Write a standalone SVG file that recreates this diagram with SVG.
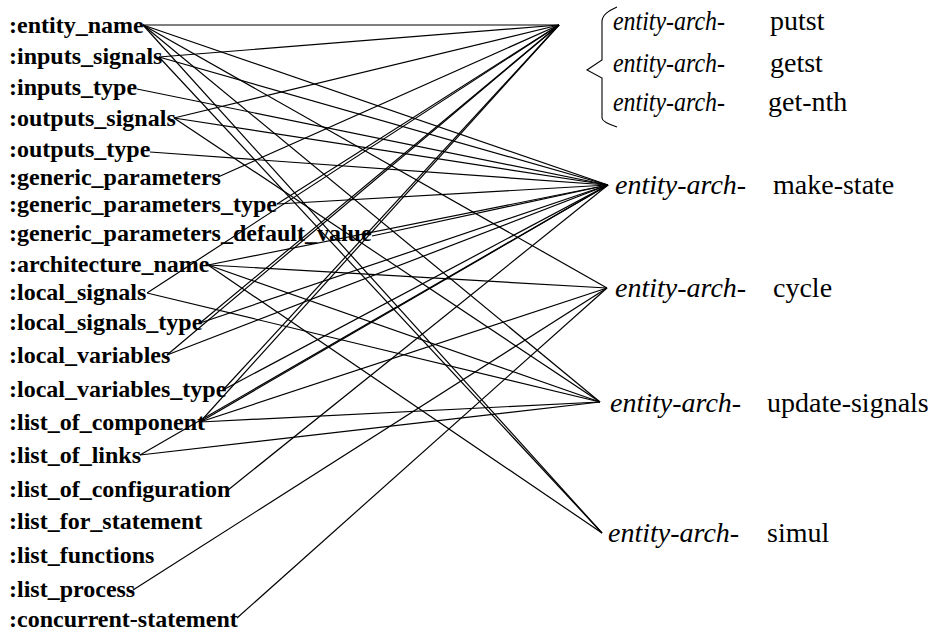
<svg xmlns="http://www.w3.org/2000/svg" width="935" height="633" viewBox="0 0 935 633">
  <style>
    .slot { font-family: "Liberation Serif", "Times New Roman", serif; font-weight: bold; font-size: 24px; fill: #000; }
    .pre { font-family: "Liberation Serif", "Times New Roman", serif; font-style: italic; font-size: 28px; fill: #000; }
    .fn { font-family: "Liberation Serif", "Times New Roman", serif; font-size: 28px; fill: #000; }
    .link { stroke: #000; stroke-width: 1.2; fill: none; }
    .brace { stroke: #000; stroke-width: 1.1; fill: none; }
  </style>
  <rect width="935" height="633" fill="#fff"/>

  <!-- connectors: slot end -> function -->
  <g id="connectors" class="link">
    <!-- to putst / getst / get-nth (559,25) -->
    <line x1="143" y1="25" x2="559" y2="25"/>
    <line x1="159" y1="57" x2="559" y2="25"/>
    <line x1="174" y1="118" x2="559" y2="25"/>
    <line x1="218" y1="177" x2="559" y2="25"/>
    <line x1="277" y1="204" x2="559" y2="25"/>
    <line x1="147" y1="293" x2="559" y2="25"/>
    <line x1="200" y1="323" x2="559" y2="25"/>
    <line x1="167" y1="355" x2="559" y2="25"/>
    <line x1="223" y1="390" x2="559" y2="25"/>
    <line x1="200" y1="422" x2="559" y2="25"/>
    <!-- to make-state (608,185) -->
    <line x1="143" y1="25" x2="608" y2="185"/>
    <line x1="159" y1="57" x2="608" y2="185"/>
    <line x1="137" y1="89" x2="608" y2="185"/>
    <line x1="174" y1="118" x2="608" y2="185"/>
    <line x1="150" y1="152" x2="608" y2="185"/>
    <line x1="277" y1="204" x2="608" y2="185"/>
    <line x1="372" y1="236" x2="608" y2="185"/>
    <line x1="208" y1="265" x2="608" y2="185"/>
    <line x1="200" y1="323" x2="608" y2="185"/>
    <line x1="167" y1="355" x2="608" y2="185"/>
    <line x1="223" y1="390" x2="608" y2="185"/>
    <line x1="200" y1="422" x2="608" y2="185"/>
    <line x1="140" y1="455" x2="608" y2="185"/>
    <line x1="228" y1="490" x2="608" y2="185"/>
    <!-- to cycle (607,288) -->
    <line x1="143" y1="25" x2="607" y2="288"/>
    <line x1="208" y1="265" x2="607" y2="288"/>
    <line x1="200" y1="422" x2="607" y2="288"/>
    <line x1="133" y1="590" x2="607" y2="288"/>
    <line x1="237" y1="618" x2="607" y2="288"/>
    <!-- to update-signals (600,402) -->
    <line x1="143" y1="25" x2="600" y2="402"/>
    <line x1="174" y1="118" x2="600" y2="402"/>
    <line x1="208" y1="265" x2="600" y2="402"/>
    <line x1="147" y1="293" x2="600" y2="402"/>
    <line x1="200" y1="422" x2="600" y2="402"/>
    <line x1="140" y1="455" x2="600" y2="402"/>
    <!-- to simul (602,533) -->
    <line x1="143" y1="25" x2="602" y2="533"/>
    <line x1="159" y1="57" x2="602" y2="533"/>
    <line x1="208" y1="265" x2="602" y2="533"/>
  </g>

  <!-- slots of the entity-arch structure -->
  <g id="entity_name"><text class="slot" x="9" y="33">:entity_name</text></g>
  <g id="inputs_signals"><text class="slot" x="9" y="64">:inputs_signals</text></g>
  <g id="inputs_type"><text class="slot" x="9" y="95">:inputs_type</text></g>
  <g id="outputs_signals"><text class="slot" x="9" y="126">:outputs_signals</text></g>
  <g id="outputs_type"><text class="slot" x="9" y="157">:outputs_type</text></g>
  <g id="generic_parameters"><text class="slot" x="9" y="185">:generic_parameters</text></g>
  <g id="generic_parameters_type"><text class="slot" x="9" y="212">:generic_parameters_type</text></g>
  <g id="generic_parameters_default_value"><text class="slot" x="9" y="241">:generic_parameters_default_value</text></g>
  <g id="architecture_name"><text class="slot" x="9" y="272">:architecture_name</text></g>
  <g id="local_signals"><text class="slot" x="9" y="300">:local_signals</text></g>
  <g id="local_signals_type"><text class="slot" x="9" y="330">:local_signals_type</text></g>
  <g id="local_variables"><text class="slot" x="9" y="363">:local_variables</text></g>
  <g id="local_variables_type"><text class="slot" x="9" y="397">:local_variables_type</text></g>
  <g id="list_of_component"><text class="slot" x="9" y="430">:list_of_component</text></g>
  <g id="list_of_links"><text class="slot" x="9" y="463">:list_of_links</text></g>
  <g id="list_of_configuration"><text class="slot" x="9" y="497">:list_of_configuration</text></g>
  <g id="list_for_statement"><text class="slot" x="9" y="529">:list_for_statement</text></g>
  <g id="list_functions"><text class="slot" x="9" y="563">:list_functions</text></g>
  <g id="list_process"><text class="slot" x="9" y="597">:list_process</text></g>
  <g id="concurrent-statement"><text class="slot" x="9" y="627">:concurrent-statement</text></g>

  <!-- functions -->
  <g id="accessors">
    <path class="brace" d="M617,7 C608,11 602,15 602,22 L602,60 L587,70 L602,78 L602,118 C602,121 608,124 617,127"/>
    <text class="pre" x="613" y="30" textLength="112" lengthAdjust="spacingAndGlyphs">entity-arch-</text>
    <text class="fn" x="770" y="30">putst</text>
    <text class="pre" x="613" y="72" textLength="112" lengthAdjust="spacingAndGlyphs">entity-arch-</text>
    <text class="fn" x="770" y="72">getst</text>
    <text class="pre" x="613" y="111" textLength="112" lengthAdjust="spacingAndGlyphs">entity-arch-</text>
    <text class="fn" x="768" y="111">get-nth</text>
  </g>
  <g id="make-state">
    <text class="pre" x="615" y="194">entity-arch-</text>
    <text class="fn" x="773" y="194">make-state</text>
  </g>
  <g id="cycle">
    <text class="pre" x="615" y="297">entity-arch-</text>
    <text class="fn" x="773" y="297">cycle</text>
  </g>
  <g id="update-signals">
    <text class="pre" x="610" y="412">entity-arch-</text>
    <text class="fn" x="767" y="412">update-signals</text>
  </g>
  <g id="simul">
    <text class="pre" x="608" y="542">entity-arch-</text>
    <text class="fn" x="767" y="542">simul</text>
  </g>
</svg>
